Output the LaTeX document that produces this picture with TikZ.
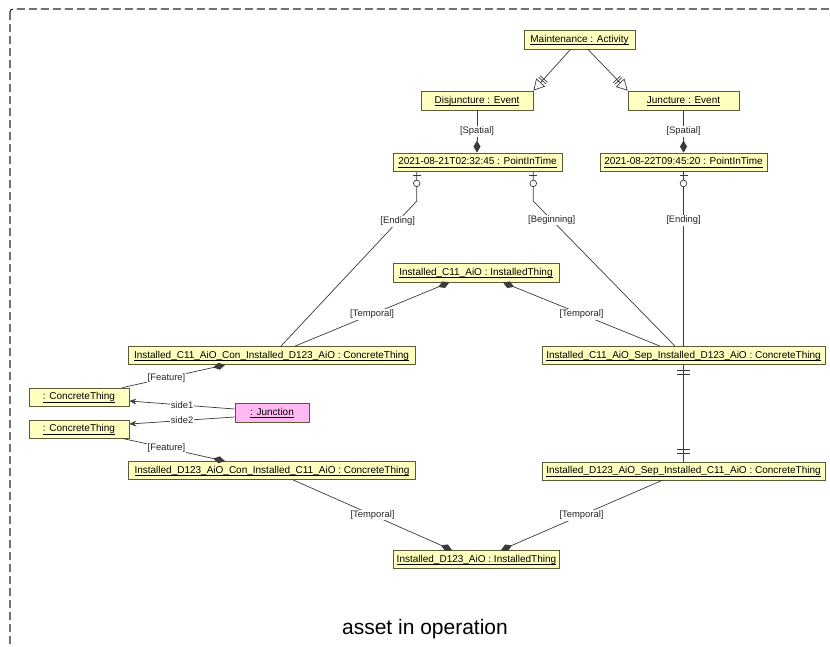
\documentclass[tikz,border=0pt]{standalone}
\usepackage{fontspec}
\setmainfont{Liberation Sans}
\usetikzlibrary{arrows.meta,calc}
\definecolor{objfill}{HTML}{FFFFC0}
\definecolor{objdraw}{HTML}{5A5A38}
\definecolor{junfill}{HTML}{FFB8F2}
\definecolor{wire}{HTML}{3A3A3A}
% underlined object name with the rule at a fixed depth
\newcommand\objname[1]{\setbox0=\hbox{#1}\rlap{\copy0}\rule[-2.5pt]{\wd0}{0.6pt}}
\begin{document}
\begin{tikzpicture}[x=1pt,y=-1pt,
  obj/.style={draw=objdraw, fill=objfill, line width=0.8pt, minimum height=18pt,
              inner xsep=3pt, inner ysep=0pt, text depth=2.2pt, text height=7.4pt,
              font=\fontsize{10}{11}\selectfont},
  lab/.style={fill=white, inner sep=1pt, font=\fontsize{9.4}{10}\selectfont, text=black!85},
  conn/.style={draw=wire, line width=0.7pt},
  comp/.style={conn, -{Diamond[length=12pt,width=7pt]}},
  compstart/.style={conn, {Diamond[length=12pt,width=7pt]}-},
  gen/.style={conn, -{Bar[width=10pt,sep=1.5pt]Bar[width=10pt,sep=2pt]Triangle[open,length=11pt,width=12pt]}},
  role/.style={conn, -{Stealth[length=7pt,width=6pt,inset=2.5pt]}}]
\useasboundingbox (0,0) rectangle (830,646);
\clip (0,0) rectangle (830,646);

% package frame
\draw[black!85, line width=1.1pt, dash pattern=on 8pt off 4pt, rounded corners=3pt]
  (10,9) rectangle (900,720);

% objects
\node[obj, minimum width=111pt, minimum height=19pt] (act)  at (579.5,39.5) {\objname{Maintenance : Activity}};
\node[obj, minimum width=112pt, minimum height=19pt] (dis)  at (477,100.5)  {\objname{Disjuncture : Event}};
\node[obj, minimum width=111pt, minimum height=19pt] (jun)  at (683.5,100.5) {\objname{Juncture : Event}};
\node[obj, minimum width=169pt] (pit1) at (477.5,162) {\objname{2021-08-21T02:32:45 : PointInTime}};
\node[obj, minimum width=167pt] (pit2) at (683.5,162) {\objname{2021-08-22T09:45:20 : PointInTime}};
\node[obj, minimum width=166pt, minimum height=19pt] (ic11) at (476,272.5) {\objname{Installed\_C11\_AiO : InstalledThing}};
\node[obj, minimum width=287pt] (con1) at (271.5,355.5) {\objname{Installed\_C11\_AiO\_Con\_Installed\_D123\_AiO : ConcreteThing}};
\node[obj, minimum width=283pt] (sep1) at (683.5,355.5) {\objname{Installed\_C11\_AiO\_Sep\_Installed\_D123\_AiO : ConcreteThing}};
\node[obj, minimum width=100pt] (ct1) at (79,397) {\objname{: ConcreteThing}};
\node[obj, minimum width=74pt, minimum height=19pt, fill=junfill] (junc) at (272,412.5) {\objname{: Junction}};
\node[obj, minimum width=100pt] (ct2) at (79,429) {\objname{: ConcreteThing}};
\node[obj, minimum width=287pt] (con2) at (272,470.5) {\objname{Installed\_D123\_AiO\_Con\_Installed\_C11\_AiO : ConcreteThing}};
\node[obj, minimum width=283pt] (sep2) at (683.5,471) {\objname{Installed\_D123\_AiO\_Sep\_Installed\_C11\_AiO : ConcreteThing}};
\node[obj, minimum width=165pt] (id123) at (476.5,559.5) {\objname{Installed\_D123\_AiO : InstalledThing}};

% title
\node[anchor=base, font=\fontsize{21}{24}\selectfont] (title) at (425,634) {asset in operation};

% generalizations
\draw[gen] ($(act.south)+(-9,0)$) -- (dis.north east);
\draw[gen] ($(act.south)+(8.5,0)$) -- (jun.north west);

% spatial parts
\draw[comp] (dis.south) -- (dis.south |- pit1.north) node[lab, pos=0.5] {[Spatial]};
\draw[comp] (jun.south) -- (jun.south |- pit2.north) node[lab, pos=0.5] {[Spatial]};

% ending / beginning links
\coordinate (e1) at ($(pit1.south)+(-60.8,0)$);
\coordinate (b1) at ($(pit1.south)+(55.8,0)$);
\coordinate (e2) at (pit2.south);
\draw[conn] (e1) -- ++(0,29.7) -- ($(con1.north)+(9.5,0)$) node[lab, pos=0.14] {[Ending]};
\draw[conn] (b1) -- ++(0,29.7) -- ($(sep1.north)+(-8.5,0)$) node[lab, pos=0.13] {[Beginning]};
\draw[conn] (e2) -- (e2 |- sep1.north) node[lab, pos=0.28] {[Ending]};
\foreach \c in {e1,b1,e2}{
  \draw[conn] ($(\c)+(-4,4)$) -- ++(8,0);
  \draw[conn, fill=white] ($(\c)+(0,12)$) circle (3.3pt);
}

% temporal parts
\draw[compstart] ($(ic11.south)+(-26.7,0)$) -- ($(con1.north)+(23.5,0)$) node[lab, midway] {[Temporal]};
\draw[compstart] ($(ic11.south)+(27,0)$) -- ($(sep1.north)+(-23.5,0)$) node[lab, midway] {[Temporal]};
\draw[comp] ($(con2.south)+(21,0)$) -- ($(id123.north)+(-24.5,0)$) node[lab, midway] {[Temporal]};
\draw[comp] ($(sep2.south)+(-21.5,0)$) -- ($(id123.north)+(24.5,0)$) node[lab, midway] {[Temporal]};

% features
\draw[compstart] ($(con1.south)+(-46.5,0)$) -- ($(ct1.north east)+(-7,0)$) node[lab, pos=0.57] {[Feature]};
\draw[comp] ($(ct2.south east)+(-7,0)$) -- ($(con2.north)+(-47,0)$) node[lab, pos=0.43] {[Feature]};

% junction roles
\draw[role] ($(junc.west)+(0,-3.5)$) -- ($(ct1.east)+(0,4)$) node[lab, midway] {side1};
\draw[role] ($(junc.west)+(0,4.5)$) -- ($(ct2.east)+(0,-5)$) node[lab, midway] {side2};

% separation link between the two concrete things
\coordinate (s1) at (sep1.south);
\coordinate (s2) at (sep2.north);
\draw[conn] (s1) -- (s1 |- s2);
\draw[conn] ($(s1)+(-6.5,5)$) -- ++(13,0);
\draw[conn] ($(s1)+(-6.5,9)$) -- ++(13,0);
\draw[conn] ($(s1 |- s2)+(-6.5,-8)$) -- ++(13,0);
\draw[conn] ($(s1 |- s2)+(-6.5,-12.5)$) -- ++(13,0);
\end{tikzpicture}
\end{document}
